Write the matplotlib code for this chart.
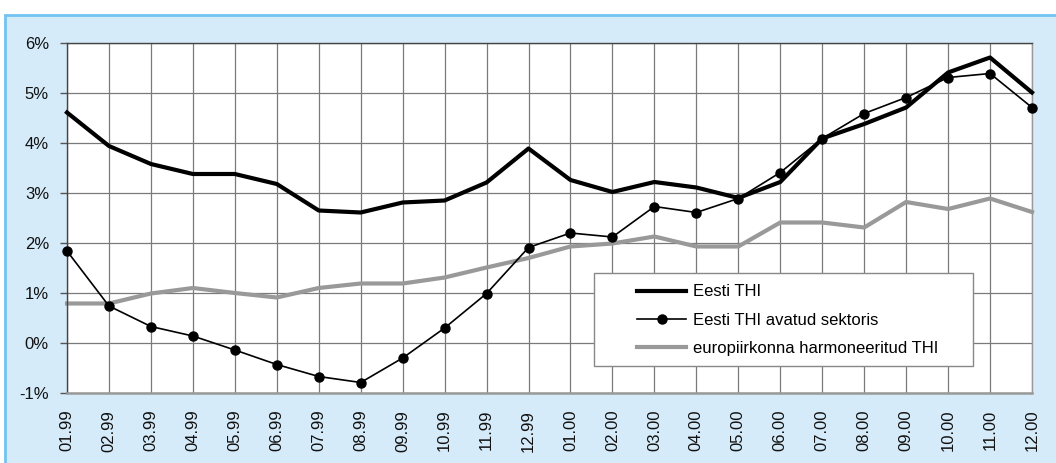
import matplotlib
matplotlib.use("Agg")
import matplotlib.pyplot as plt
from matplotlib.patches import Rectangle

plt.rcParams['font.family'] = ['Liberation Sans', 'DejaVu Sans']

months = ["01.99", "02.99", "03.99", "04.99", "05.99", "06.99", "07.99", "08.99",
          "09.99", "10.99", "11.99", "12.99", "01.00", "02.00", "03.00", "04.00",
          "05.00", "06.00", "07.00", "08.00", "09.00", "10.00", "11.00", "12.00"]

eesti_thi = [4.61, 3.94, 3.58, 3.38, 3.38, 3.18, 2.65, 2.61, 2.81, 2.85, 3.21, 3.89,
             3.26, 3.02, 3.22, 3.11, 2.90, 3.22, 4.09, 4.38, 4.71, 5.41, 5.71, 5.01]

eesti_avatud = [1.84, 0.74, 0.33, 0.14, -0.14, -0.43, -0.67, -0.79, -0.30, 0.30, 0.99, 1.91,
                2.20, 2.12, 2.73, 2.61, 2.89, 3.41, 4.09, 4.59, 4.91, 5.31, 5.39, 4.71]

euro_hicp = [0.79, 0.79, 0.99, 1.10, 1.00, 0.91, 1.10, 1.19, 1.19, 1.31, 1.51, 1.70,
             1.93, 1.99, 2.13, 1.93, 1.93, 2.41, 2.41, 2.31, 2.82, 2.68, 2.89, 2.62]

labels = ["Eesti THI", "Eesti THI avatud sektoris", "europiirkonna harmoneeritud THI"]
yticks = [-1, 0, 1, 2, 3, 4, 5, 6]

W, H = 1056, 463
fig = plt.figure(figsize=(W / 100, H / 100), dpi=100)
fig.patch.set_facecolor('white')

# outer light-blue frame
frame = Rectangle((5 / W, -0.05), 1.1, 1 - 15 / H + 0.05, transform=fig.transFigure,
                  facecolor='#d6ebf9', edgecolor='#72c3f0', linewidth=2.0, zorder=-5)
fig.patches.append(frame)

ax = fig.add_axes([67 / W, (H - 393) / H, 965 / W, 350 / H])
ax.set_facecolor('white')

x = list(range(len(months)))
l1, = ax.plot(x, eesti_thi, color='black', lw=3.0, zorder=3, clip_on=False)
l2, = ax.plot(x, eesti_avatud, color='black', lw=1.2, marker='o', markersize=6.5,
              zorder=4, clip_on=False)
l3, = ax.plot(x, euro_hicp, color='#999999', lw=3.0, zorder=2, clip_on=False)

ax.set_xlim(0, len(months) - 1)
ax.set_ylim(-1, 6)
ax.set_yticks(yticks)
ax.set_yticklabels([f"{v}%" for v in yticks])
ax.set_xticks(x)
ax.set_xticklabels(months, rotation=90, va='top', ha='center')

ax.grid(True, color='#7a7a7a', lw=0.9, zorder=1)
ax.set_axisbelow(True)

ax.tick_params(axis='y', length=5, width=1, color='#555555', pad=8, labelsize=12,
               labelcolor='#111111')
ax.tick_params(axis='x', length=0, pad=12, labelsize=12, labelcolor='#111111')

ax.spines['left'].set_color('#444444')
ax.spines['top'].set_color('#444444')
ax.spines['right'].set_color('#999999')
ax.spines['bottom'].set_color('#999999')
ax.spines['bottom'].set_linewidth(1.8)
for s in ['left', 'top', 'right']:
    ax.spines[s].set_linewidth(1.0)

# legend box
box = Rectangle((594 / W, (H - 366) / H), (973 - 594) / W, (366 - 273) / H,
                transform=fig.transFigure, facecolor='white', edgecolor='#888888',
                linewidth=1.0, zorder=5)
fig.patches.append(box)

leg = fig.legend([l1, l2, l3], labels, loc='upper left',
                 bbox_to_anchor=(624 / W, (H - 271) / H), frameon=False,
                 fontsize=12, handlelength=2.9, handletextpad=0.42,
                 labelspacing=0.8, borderpad=0.3)
leg.set_zorder(6)

fig.savefig("out.png", dpi=100)
